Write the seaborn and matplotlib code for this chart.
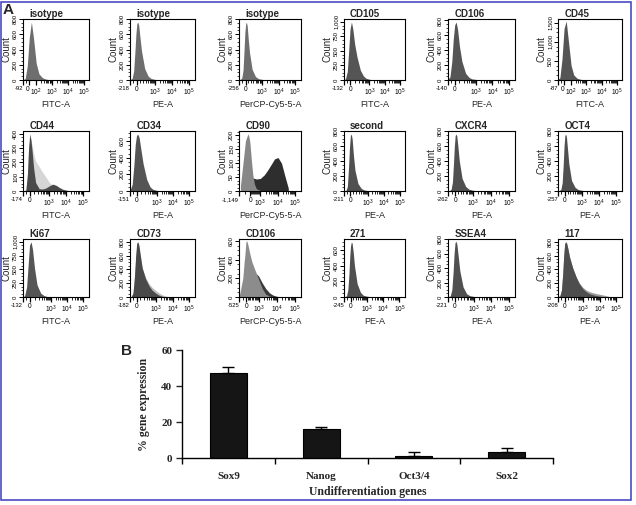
import numpy as np
import pandas as pd
import matplotlib
matplotlib.use("Agg")
import matplotlib.pyplot as plt
import seaborn as sns
from matplotlib.patches import Rectangle
from matplotlib.ticker import MultipleLocator

# ===============================
# Panel A: flow cytometry histograms
# ===============================
# channel values where the counts below are read
grid = [-1000, -500, -250, -150, -100, -60, -30, 0, 30, 60, 100, 150, 250, 400,
        600, 1000, 1600, 2500, 4000, 6300, 10000, 16000, 25000, 40000]

titles = ["isotype", "isotype", "isotype", "CD105", "CD106", "CD45",
          "CD44", "CD34", "CD90", "second", "CXCR4", "OCT4",
          "Ki67", "CD73", "CD106", "271", "SSEA4", "117"]
channels = ["FITC-A", "PE-A", "PerCP-Cy5-5-A", "FITC-A", "PE-A", "FITC-A",
            "FITC-A", "PE-A", "PerCP-Cy5-5-A", "PE-A", "PE-A", "PE-A",
            "FITC-A", "PE-A", "PerCP-Cy5-5-A", "PE-A", "PE-A", "PE-A"]
neg_limits = [-92, -218, -256, -132, -140, -87,
              -174, -151, -1149, -211, -262, -257,
              -132, -182, -525, -245, -221, -208]
neg_labels = ["-92", "-218", "-256", "-132", "-140", "-87",
              "-174", "-151", "-1,149", "-211", "-262", "-257",
              "-132", "-182", "-525", "-245", "-221", "-208"]
show_1e2 = [0, 5]  # panels that label 10^2

ystep = [200, 200, 200, 250, 200, 500, 100, 200, 50, 200, 200, 200,
         250, 200, 200, 200, 200, 200]
ymax = [800, 800, 800, 1050, 820, 1600, 420, 720, 215, 800, 800, 800,
        1050, 840, 620, 740, 800, 840]

front_counts = [
    [0, 0, 0, 0, 0, 20, 180, 560, 760, 560, 220, 80, 30, 12, 6, 3, 2, 0, 0, 0, 0, 0, 0, 0],
    [0, 0, 0, 20, 120, 380, 600, 740, 760, 720, 560, 380, 150, 50, 20, 8, 4, 2, 1, 0, 0, 0, 0, 0],
    [0, 0, 0, 25, 130, 400, 620, 730, 760, 710, 540, 360, 140, 45, 18, 8, 4, 2, 1, 0, 0, 0, 0, 0],
    [0, 0, 0, 0, 20, 150, 500, 880, 1000, 880, 620, 400, 170, 70, 30, 12, 6, 4, 2, 1, 0, 0, 0, 0],
    [0, 0, 0, 5, 40, 250, 550, 740, 780, 680, 450, 250, 90, 35, 15, 8, 5, 3, 2, 1, 0, 0, 0, 0],
    [0, 0, 0, 0, 0, 60, 550, 1350, 1550, 1050, 380, 130, 45, 20, 10, 6, 4, 2, 1, 0, 0, 0, 0, 0],
    [0, 0, 0, 0, 8, 120, 300, 400, 360, 280, 160, 60, 16, 14, 20, 36, 48, 40, 24, 12, 6, 2, 0, 0],
    [0, 0, 0, 10, 80, 320, 560, 670, 680, 640, 500, 330, 140, 50, 20, 8, 4, 2, 1, 0, 0, 0, 0, 0],
    [20, 180, 205, 195, 185, 175, 165, 150, 140, 125, 110, 90, 55, 25, 8, 2, 0, 0, 0, 0, 0, 0, 0, 0],
    [0, 0, 0, 5, 60, 320, 580, 740, 760, 690, 480, 280, 100, 35, 14, 6, 3, 2, 1, 0, 0, 0, 0, 0],
    [0, 0, 0, 20, 120, 380, 600, 740, 760, 730, 590, 400, 170, 60, 25, 10, 5, 3, 2, 1, 0, 0, 0, 0],
    [0, 0, 0, 20, 110, 360, 600, 740, 760, 720, 560, 360, 140, 50, 20, 9, 5, 3, 2, 1, 0, 0, 0, 0],
    [0, 0, 0, 0, 20, 180, 560, 940, 1000, 860, 520, 220, 70, 25, 10, 5, 3, 2, 1, 0, 0, 0, 0, 0],
    [0, 0, 0, 5, 60, 300, 580, 780, 800, 750, 600, 420, 260, 160, 100, 55, 25, 10, 4, 2, 0, 0, 0, 0],
    [0, 15, 200, 380, 450, 520, 580, 600, 598, 590, 570, 540, 470, 380, 300, 190, 90, 30, 8, 2, 0, 0, 0, 0],
    [0, 0, 0, 15, 90, 280, 500, 650, 700, 690, 580, 400, 170, 60, 22, 10, 5, 3, 2, 1, 0, 0, 0, 0],
    [0, 0, 0, 15, 100, 350, 600, 750, 770, 720, 560, 360, 140, 45, 18, 8, 4, 2, 1, 0, 0, 0, 0, 0],
    [0, 0, 0, 15, 100, 340, 600, 770, 800, 780, 700, 580, 420, 290, 200, 120, 75, 48, 32, 20, 12, 6, 2, 0],
]
# second (overlaid) population, drawn behind the front one
back_counts = {
    6: [0, 0, 0, 0, 5, 100, 280, 380, 360, 320, 260, 210, 170, 130, 100, 60, 40, 20, 8, 2, 0, 0, 0, 0],
    8: [0, 20, 35, 40, 42, 44, 45, 45, 46, 47, 48, 48, 47, 45, 43, 45, 58, 75, 95, 115, 120, 100, 55, 10],
    13: [0, 0, 0, 5, 50, 280, 550, 740, 760, 720, 580, 420, 280, 190, 140, 95, 58, 30, 12, 4, 1, 0, 0, 0],
    14: [0, 5, 80, 150, 190, 230, 270, 290, 300, 300, 300, 300, 300, 285, 265, 225, 150, 90, 45, 20, 8, 3, 0, 0],
    17: [0, 0, 0, 15, 100, 340, 600, 770, 800, 780, 700, 580, 420, 290, 205, 140, 100, 78, 62, 50, 40, 30, 18, 6],
}
front_colors = ["#6e6e6e", "#6e6e6e", "#6e6e6e", "#555555", "#555555", "#555555",
                "#4a4a4a", "#555555", "#878787", "#505050", "#505050", "#505050",
                "#555555", "#4a4a4a", "#8c8c8c", "#505050", "#505050", "#4e4e4e"]
back_colors = {6: "#d6d6d6", 8: "#2e2e2e", 13: "#bdbdbd", 14: "#3a3a3a", 17: "#9c9c9c"}

# ===============================
# Panel B: gene expression bars
# ===============================
genes = ["Sox9", "Nanog", "Oct3/4", "Sox2"]
expression = [47.3, 16.2, 1.0, 3.2]
expression_err = [3.3, 0.9, 2.3, 2.4]

sns.set_theme(style="white")
plt.rcParams["font.family"] = ["Liberation Sans", "DejaVu Sans"]
plt.rcParams["mathtext.fontset"] = "custom"
plt.rcParams["mathtext.rm"] = "Liberation Sans"
plt.rcParams["mathtext.bf"] = "Liberation Sans:bold"
plt.rcParams["axes.edgecolor"] = "black"

W, H = 636, 505
fig = plt.figure(figsize=(W / 100, H / 100), dpi=100)
fig.patch.set_facecolor("white")


def px_axes(x0, y0, x1, y1):
    return fig.add_axes([x0 / W, 1 - y1 / H, (x1 - x0) / W, (y1 - y0) / H])


COL_X = [(23, 89), (130, 195), (239, 301), (344, 405), (448, 515), (558, 622)]
ROW_Y = [(19, 80), (131, 191), (239, 297)]


def pow_label(e):
    return r"$\mathregular{10^{%d}}$" % e


def draw_hist(ax, i):
    lim = neg_limits[i]
    ax.set_xscale("symlog", linthresh=abs(lim), linscale=0.6 if i == 8 else 0.36)
    x = np.array(grid, dtype=float)
    if i in back_counts:
        ax.fill_between(x, 0, back_counts[i], color=back_colors[i], lw=0)
    ax.fill_between(x, 0, front_counts[i], color=front_colors[i], lw=0)
    ax.set_xlim(lim, 2.2e5)
    ax.set_ylim(0, ymax[i])

    majors = [lim, 0]
    labels = [neg_labels[i], "0"]
    if i in show_1e2:
        majors.append(100)
        labels.append(pow_label(2))
    for e in (3, 4, 5):
        majors.append(10 ** e)
        labels.append(pow_label(e))
    ax.set_xticks(majors)
    ax.set_xticklabels(labels)
    minors = [m * 10 ** e for e in (2, 3, 4) for m in range(2, 10)] + [lim / 2]
    if i not in show_1e2:
        minors.append(100)
    ax.set_xticks(minors, minor=True)
    ax.tick_params(axis="x", which="major", direction="out", length=3.5, width=0.9,
                   pad=1, labelsize=4.8, colors="black", bottom=True)
    ax.tick_params(axis="x", which="minor", direction="out", length=2, width=0.6,
                   colors="black", bottom=True)
    tl = ax.get_xticklabels()
    tl[0].set_ha("right")
    tl[0].set_fontsize(4.2)
    if i in show_1e2:
        tl[1].set_ha("right")

    yt = list(range(0, ymax[i] + 1, ystep[i]))
    ax.set_yticks(yt)
    ax.set_yticklabels([f"{v:,}" for v in yt], rotation=90, va="center")
    ax.yaxis.set_minor_locator(MultipleLocator(ystep[i] / 4))
    ax.tick_params(axis="y", which="major", direction="out", length=3, width=0.7,
                   pad=0.5, labelsize=4.3, colors="black", left=True)
    ax.tick_params(axis="y", which="minor", direction="out", length=1.8, width=0.5,
                   colors="black", left=True)

    for sp in ax.spines.values():
        sp.set_linewidth(0.8)
        sp.set_color("black")
    ax.set_ylabel("Count", fontsize=7, labelpad=1)
    ax.set_xlabel(channels[i], fontsize=6.5, labelpad=2)
    ax.text(0.1, 1.0, titles[i], transform=ax.transAxes, fontsize=7,
            fontweight="bold", va="bottom", ha="left")


for i in range(len(titles)):
    r, c = divmod(i, 6)
    ax = px_axes(COL_X[c][0], ROW_Y[r][0], COL_X[c][1], ROW_Y[r][1])
    draw_hist(ax, i)

# bar chart
df = pd.DataFrame({"gene": genes, "expr": expression})
ax_b = px_axes(182, 350, 553, 458)
sns.barplot(data=df, x="gene", y="expr", color="#151515", width=0.4,
            edgecolor="black", linewidth=0.8, saturation=1, errorbar=None, ax=ax_b)
ax_b.errorbar(range(len(genes)), expression,
              yerr=[np.zeros(len(genes)), expression_err],
              fmt="none", ecolor="black", elinewidth=1.0, capsize=4, capthick=1.0)
ax_b.set_xlim(-0.5, 3.5)
ax_b.set_ylim(0, 60)
ax_b.set_yticks([0, 20, 40, 60])
ax_b.set_xticks([-0.5, 0.5, 1.5, 2.5, 3.5], minor=True)
sns.despine(ax=ax_b)
ax_b.spines["left"].set_linewidth(1.0)
ax_b.spines["bottom"].set_linewidth(1.0)
ax_b.tick_params(axis="x", which="major", length=0, pad=10)
ax_b.tick_params(axis="x", which="minor", direction="out", length=4, width=1.0,
                 bottom=True, colors="black")
ax_b.tick_params(axis="y", direction="out", length=4, width=1.0, left=True, pad=3)
serif = ["Liberation Serif", "DejaVu Serif"]
for lab in ax_b.get_xticklabels() + ax_b.get_yticklabels():
    lab.set_family(serif)
    lab.set_fontweight("bold")
    lab.set_fontsize(8)
ax_b.set_xlabel("Undifferentiation genes", family=serif, fontweight="bold",
                fontsize=8.5, labelpad=4)
ax_b.set_ylabel("% gene expression", family=serif, fontweight="bold",
                fontsize=8.5, labelpad=8)

# panel letters and frame
fig.text(8 / W, 1 - 10 / H, "A", fontsize=11, fontweight="bold", ha="center", va="center")
fig.text(127 / W, 1 - 351 / H, "B", fontsize=11, fontweight="bold", ha="center", va="center")
fig.patches.append(Rectangle((1 / W, 1 - 500 / H), 630 / W, 498.5 / H,
                             transform=fig.transFigure, fill=False,
                             edgecolor="#4b4bc4", lw=1.2))

fig.savefig("out.png", dpi=100)
